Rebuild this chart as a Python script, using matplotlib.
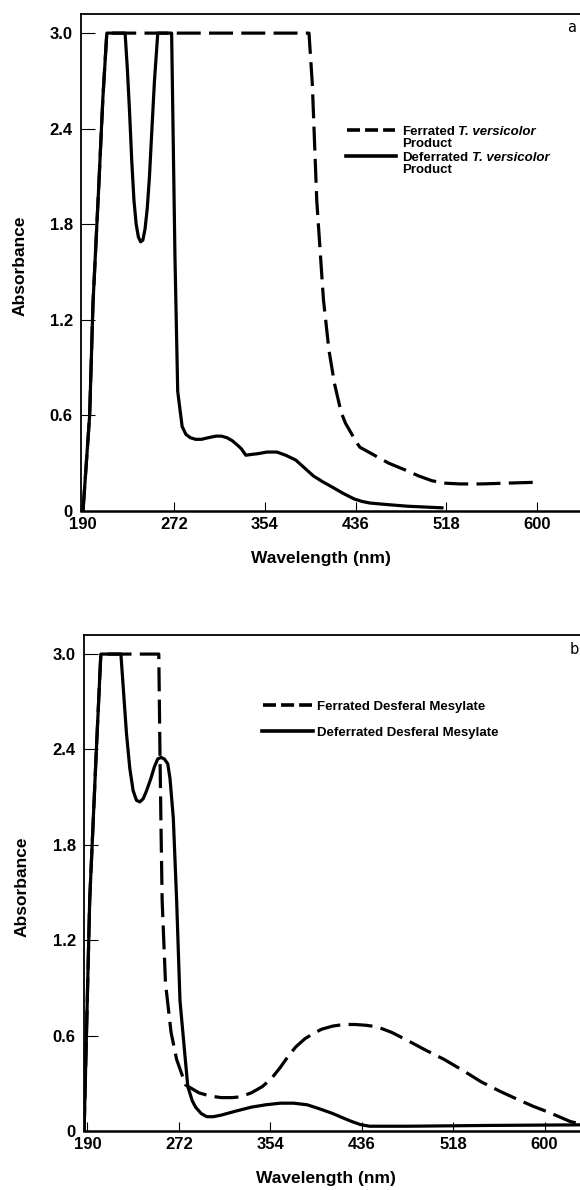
import matplotlib
matplotlib.use("Agg")
import matplotlib.pyplot as plt
from matplotlib.lines import Line2D

plt.rcParams['font.family'] = ['Liberation Sans', 'DejaVu Sans']
plt.rcParams['font.weight'] = 'bold'

# panel a : T. versicolor product (wavelength nm, absorbance)
wl_a_def = [190, 196, 199, 204.3, 208, 211.5, 228, 230, 232, 234, 236, 238, 240, 242,
            244, 246, 248, 250, 252, 254.5, 257.5, 270, 273, 275.5, 279.5, 283, 287,
            291.6, 297, 303, 310, 315, 320, 325, 330, 333, 337, 342, 348, 356, 365,
            373, 382, 390, 398, 406, 415, 425, 435, 442, 449, 465, 483, 514]
ab_a_def = [0, 0.6, 1.3, 2.05, 2.6, 3.0, 3.0, 2.78, 2.51, 2.2, 1.95, 1.8, 1.72, 1.69,
            1.7, 1.77, 1.9, 2.1, 2.37, 2.7, 3.0, 3.0, 1.6, 0.75, 0.53, 0.48, 0.46,
            0.45, 0.45, 0.46, 0.47, 0.47, 0.46, 0.44, 0.41, 0.39, 0.35, 0.355, 0.36,
            0.37, 0.37, 0.35, 0.32, 0.27, 0.22, 0.185, 0.15, 0.11, 0.075, 0.06, 0.05,
            0.04, 0.03, 0.02]
wl_a_fer = [190, 196, 199, 204.3, 208, 211.5, 394, 397, 401, 407, 412, 417, 423, 427,
            432, 436, 440, 453, 466, 480, 493, 505, 516, 530, 550, 597]
ab_a_fer = [0, 0.6, 1.3, 2.05, 2.6, 3.0, 3.0, 2.68, 1.95, 1.33, 1.01, 0.80, 0.62, 0.55,
            0.49, 0.44, 0.40, 0.35, 0.30, 0.26, 0.22, 0.19, 0.175, 0.17, 0.17, 0.18]

# panel b : Desferal mesylate
wl_b_def = [187, 192, 198, 202, 220, 222, 225, 228, 231, 234, 237, 240, 243, 247, 250,
            253, 256, 259, 262, 264, 267, 270, 273, 277, 280, 284, 287, 292, 297, 303,
            310, 323, 337, 350, 363, 375, 387, 398, 410, 420, 427, 435, 443, 477, 550, 660]
ab_b_def = [0, 1.45, 2.4, 3.0, 3.0, 2.8, 2.5, 2.28, 2.14, 2.08, 2.07, 2.09, 2.14, 2.22,
            2.29, 2.34, 2.35, 2.34, 2.31, 2.22, 1.97, 1.45, 0.82, 0.51, 0.28, 0.19, 0.15,
            0.11, 0.09, 0.09, 0.10, 0.125, 0.15, 0.165, 0.175, 0.175, 0.165, 0.14, 0.11,
            0.08, 0.06, 0.04, 0.03, 0.03, 0.035, 0.04]
wl_b_fer = [187, 192, 198, 202, 254, 255, 256, 257, 260, 265, 270, 278, 290, 300, 310,
            320, 327, 337, 347, 355, 363, 370, 377, 385, 393, 400, 410, 420, 430, 440,
            450, 463, 477, 493, 510, 527, 543, 560, 577, 590, 603, 613, 623, 640]
ab_b_fer = [0, 1.45, 2.4, 3.0, 3.0, 2.4, 1.9, 1.45, 0.93, 0.62, 0.45, 0.29, 0.24, 0.22,
            0.21, 0.21, 0.215, 0.24, 0.28, 0.33, 0.40, 0.47, 0.53, 0.58, 0.615, 0.64,
            0.66, 0.67, 0.67, 0.665, 0.655, 0.62, 0.57, 0.51, 0.45, 0.38, 0.31, 0.25,
            0.195, 0.155, 0.12, 0.09, 0.06, 0.03]

xticks = [190, 272, 354, 436, 518, 600]
yticks = [0, 0.6, 1.2, 1.8, 2.4, 3.0]
ytick_labels = ['0', '0.6', '1.2', '1.8', '2.4', '3.0']

W, H = 580, 1190
fig = plt.figure(figsize=(W / 100, H / 100), dpi=100)

# axes reach past the right edge of the figure, as in the scanned original
ax_a = fig.add_axes([81 / W, (H - 511) / H, 567 / W, 497 / H])
ax_b = fig.add_axes([84 / W, (H - 1131) / H, 572 / W, 496 / H])

dash = (7.5, 2.6)
lw = 2.3

ax_a.plot(wl_a_fer, ab_a_fer, color='black', lw=lw, dashes=dash)
ax_a.plot(wl_a_def, ab_a_def, color='black', lw=lw)
ax_b.plot(wl_b_fer, ab_b_fer, color='black', lw=lw, dashes=dash)
ax_b.plot(wl_b_def, ab_b_def, color='black', lw=lw)

for ax, left, top in [(ax_a, 188.2, 3.12), (ax_b, 186.9, 3.12)]:
    ax.set_xlim(left, 700)
    ax.set_ylim(0, top)
    ax.set_xticks(xticks)
    ax.set_xticklabels([str(t) for t in xticks])
    ax.set_yticks(yticks)
    ax.set_yticklabels(ytick_labels)
    ax.tick_params(axis='y', direction='in', length=10, width=0.8, labelsize=12, pad=6)
    ax.tick_params(axis='x', direction='in', length=6.5, width=0.8, labelsize=12, pad=4.5)
    ax.spines['right'].set_visible(False)
    ax.spines['left'].set_linewidth(1.3)
    ax.spines['top'].set_linewidth(1.3)
    ax.spines['bottom'].set_linewidth(1.8)

# axis titles
fig.text(321 / W, 1 - 558 / H, 'Wavelength (nm)', fontsize=12.5, ha='center', va='center')
fig.text(326 / W, 1 - 1178 / H, 'Wavelength (nm)', fontsize=12.5, ha='center', va='center')
fig.text(20 / W, 1 - 266 / H, 'Absorbance', fontsize=12.5, ha='center', va='center',
         rotation=90)
fig.text(22 / W, 1 - 887 / H, 'Absorbance', fontsize=12.5, ha='center', va='center',
         rotation=90)


def legend_entry(ax, x, y, first, italic=None, second=None, solid=True, x0=None, x1=None):
    key = dict(color='black', lw=2.6)
    if not solid:
        key['dashes'] = (3.6, 1.4)
    fig.add_artist(Line2D([x0 / W, x1 / W], [1 - y / H] * 2, **key))
    t = fig.text(x / W, 1 - (y + 2) / H, first, fontsize=9.5, ha='left', va='center')
    if italic:
        ax.annotate(italic, xy=(1, 0), xycoords=t, xytext=(2.6, 0),
                    textcoords='offset points', fontsize=9.5, fontstyle='italic',
                    ha='left', va='bottom', annotation_clip=False)
    if second:
        fig.text(x / W, 1 - (y + 14) / H, second, fontsize=9.5, ha='left', va='center')


legend_entry(ax_a, 402, 130, 'Ferrated', 'T. versicolor', 'Product', solid=False, x0=347, x1=395)
legend_entry(ax_a, 402, 156, 'Deferrated', 'T. versicolor', 'Product', solid=True, x0=346, x1=396)
legend_entry(ax_b, 317, 705, 'Ferrated Desferal Mesylate', solid=False, x0=263, x1=312)
legend_entry(ax_b, 317, 731, 'Deferrated Desferal Mesylate', solid=True, x0=262, x1=313)

fig.text(567 / W, 1 - 27 / H, 'a', fontsize=10.5, fontweight='normal',
         family='DejaVu Sans', va='center', ha='left')
fig.text(570 / W, 1 - 650 / H, 'b', fontsize=10.5, fontweight='normal',
         family='DejaVu Sans', va='center', ha='left')

fig.savefig('out.png', dpi=100)
